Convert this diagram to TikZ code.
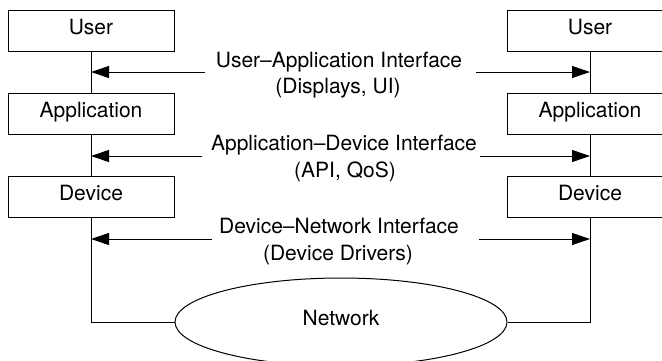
\documentclass[tikz,border=0pt]{standalone}
\usepackage{fontspec}
\setmainfont{TeX Gyre Heros}
\usetikzlibrary{arrows.meta,shapes.geometric}
\begin{document}
\begin{tikzpicture}[x=1pt,y=-1pt,
  line width=1pt,
  every node/.style={font=\fontsize{21}{26}\selectfont},
  layerbox/.style={draw, rectangle, minimum width=166pt, minimum height=41pt, inner sep=0pt, text height=0.72em, text depth=0pt},
  cloud/.style={draw, ellipse, minimum width=332pt, minimum height=88pt, inner sep=0pt, text height=0.72em, text depth=0pt},
  lbl/.style={anchor=base, inner sep=0pt},
  ifarrow/.style={-{Triangle[length=18pt,width=12pt]}}
]
\useasboundingbox (0,0) rectangle (662,360);
\clip (0,0) rectangle (662,360);

% left stack
\node[layerbox] (u1) at (91,30.5) {User};
\node[layerbox] (a1) at (91,113.5) {Application};
\node[layerbox] (d1) at (91,196.5) {Device};
% right stack
\node[layerbox] (u2) at (590,30.5) {User};
\node[layerbox] (a2) at (590,113.5) {Application};
\node[layerbox] (d2) at (590,196.5) {Device};
% network
\node[cloud] (net) at (341,322) {Network};

% labels
\node[lbl] (l1a) at (339,67) {User\textendash Application Interface};
\node[lbl] (l1b) at (338,93) {(Displays, UI)};
\node[lbl] (l2a) at (344,150) {Application\textendash Device Interface};
\node[lbl] (l2b) at (345,177) {(API, QoS)};
\node[lbl] (l3a) at (339,233) {Device\textendash Network Interface};
\node[lbl] (l3b) at (338,260) {(Device Drivers)};

% verticals
\draw (u1.south) -- (a1.north);
\draw (a1.south) -- (d1.north);
\draw (d1.south) |- (net.west);
\draw (u2.south) -- (a2.north);
\draw (a2.south) -- (d2.north);
\draw (d2.south) |- (net.east);

% arrow ends
\coordinate (c1l) at (205,72);
\coordinate (c1r) at (476,72);
\coordinate (c2l) at (202,156);
\coordinate (c2r) at (480,156);
\coordinate (c3l) at (212,239);
\coordinate (c3r) at (479,239);

\draw[ifarrow] (c1l) -- (u1.south |- c1l);
\draw[ifarrow] (c1r) -- (u2.south |- c1r);
\draw[ifarrow] (c2l) -- (a1.south |- c2l);
\draw[ifarrow] (c2r) -- (a2.south |- c2r);
\draw[ifarrow] (c3l) -- (d1.south |- c3l);
\draw[ifarrow] (c3r) -- (d2.south |- c3r);
\end{tikzpicture}
\end{document}
